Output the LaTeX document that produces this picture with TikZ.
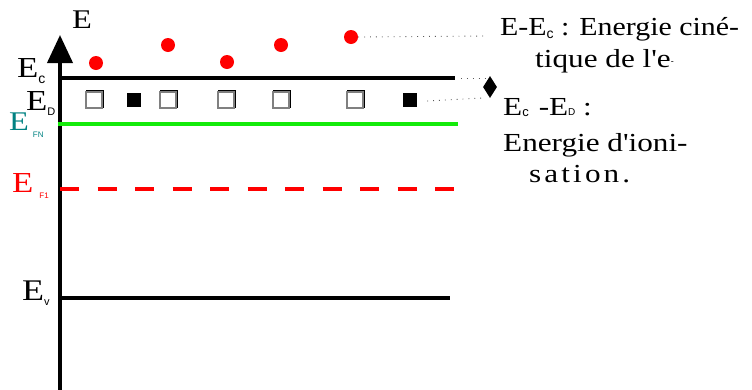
\documentclass[tikz,border=0pt]{standalone}
\usepackage{fontspec}
\setmainfont{Liberation Serif}
\newfontfamily\widefont[FakeStretch=1.2]{Liberation Serif}
\newfontfamily\midfont[FakeStretch=1.15]{Liberation Serif}
\newfontfamily\spacedfont[FakeStretch=1.2, LetterSpace=12]{Liberation Serif}
\newfontfamily\subfont{Liberation Sans}
\usetikzlibrary{shapes.geometric,arrows.meta}

\definecolor{dotred}{RGB}{255,0,0}
\definecolor{fngreen}{RGB}{20,235,10}
\definecolor{fnteal}{RGB}{0,130,130}
\definecolor{guidegray}{RGB}{90,90,90}

% small sans subscript: size, drop below baseline, text
\newcommand\lowsub[3]{\raisebox{-#2}{\subfont\fontsize{#1}{#1}\selectfont #3}}

\tikzset{
  axisline/.style={line width=4pt, -{Triangle[length=28pt,width=25pt]}},
  levelline/.style={line width=3.6pt},
  electron/.style={circle, fill=dotred, minimum size=14pt, inner sep=0pt},
  opensq/.style={rectangle, draw=gray, fill=white, line width=1.1pt,
    minimum size=16pt, inner sep=0pt,
    preaction={draw=black, line width=2pt, transform canvas={shift={(0.9pt,0.9pt)}}}},
  fullsq/.style={rectangle, fill=black, minimum size=14pt, inner sep=0pt},
  guide/.style={guidegray, line width=0.9pt, dash pattern=on 0.9pt off 5pt},
  lbl/.style={anchor=base west, inner sep=0pt},
  bodytext/.style={lbl, font=\widefont\fontsize{26}{26}\selectfont},
}

\begin{document}
\begin{tikzpicture}[x=1pt,y=-1pt]
\useasboundingbox (0,0) rectangle (752,389);

% energy axis
\coordinate (axbot) at (60,392);
\coordinate (axtop) at (60,35);
\draw[axisline] (axbot) -- (axtop);
\node[lbl, font=\widefont\fontsize{27}{27}\selectfont] (lE) at (72,28) {E};

% levels
\coordinate (ecL) at (60,78);    \coordinate (ecR) at (455,78);
\coordinate (fnL) at (58,123.5); \coordinate (fnR) at (458,123.5);
\coordinate (f1L) at (60,189);   \coordinate (f1R) at (455,189);
\coordinate (evL) at (60,298);   \coordinate (evR) at (450,298);
\draw[levelline] (ecL) -- (ecR);
\draw[levelline, fngreen, line width=4pt] (fnL) -- (fnR);
\draw[levelline, dotred, line width=4pt, dash pattern=on 19pt off 18.5pt] (f1L) -- (f1R);
\draw[levelline, line width=3.2pt] (evL) -- (evR);

% level labels
\node[lbl] (lEc) at (17,77) {\widefont\fontsize{29}{29}\selectfont E\lowsub{14}{6pt}{c}};
\node[lbl] (lED) at (26,110) {\widefont\fontsize{29}{29}\selectfont E\lowsub{11}{5pt}{D}};
\node[lbl, text=fnteal] (lEfn) at (9,130) {\widefont\fontsize{27}{27}\selectfont E\hspace{4pt}\lowsub{8}{7pt}{FN}};
\node[lbl, text=dotred] (lEf1) at (12,192) {\widefont\fontsize{29}{29}\selectfont E\hspace{6pt}\lowsub{8}{6pt}{F1}};
\node[lbl] (lEv) at (22,300) {\widefont\fontsize{30}{30}\selectfont E\lowsub{11}{5pt}{v}};

% free electrons in the conduction band
\node[electron] (e1) at (96,63) {};
\node[electron] (e2) at (168,45) {};
\node[electron] (e3) at (227,62) {};
\node[electron] (e4) at (281,45) {};
\node[electron] (e5) at (351,37) {};

% donor states: open = ionised, filled = occupied
\node[opensq] (s1) at (94,100) {};
\node[fullsq] (s2) at (134,100) {};
\node[opensq] (s3) at (168,100) {};
\node[opensq] (s4) at (226,100) {};
\node[opensq] (s5) at (281,100) {};
\node[opensq] (s6) at (355,100) {};
\node[fullsq] (s7) at (410,100) {};

% pointers to the annotations
\node[diamond, fill=black, minimum width=14pt, minimum height=22pt, inner sep=0pt] (dia) at (490,87) {};
\coordinate (kinEnd) at (486,36);
\coordinate (diaTop) at (485,78);
\coordinate (diaBot) at (482,98);
\draw[guide] (e5.east) -- (kinEnd);
\draw[guide] (ecR) ++(6pt,0) coordinate (ecGap) (ecGap) -- (diaTop);
\draw[guide] (s7.east) ++(10pt,-1pt) coordinate (s7Gap) (s7Gap) -- (diaBot);

% annotations
\node[bodytext, font=\midfont\fontsize{26}{26}\selectfont] (t1) at (500,35) {E-E\lowsub{14}{3pt}{c} : Energie ciné-};
\node[bodytext] (t2) at (535,67) {tique de l'e\raisebox{3pt}{\subfont\fontsize{9}{9}\selectfont -}};
\node[bodytext] (t3) at (503,115) {E\lowsub{13}{1pt}{c}\hspace{10pt}-E\lowsub{10}{0pt}{D} :};
\node[bodytext] (t4) at (503,151) {Energie d'ioni-};
\node[bodytext, font=\spacedfont\fontsize{26}{26}\selectfont] (t5) at (529,182) {sation.};
\end{tikzpicture}
\end{document}
